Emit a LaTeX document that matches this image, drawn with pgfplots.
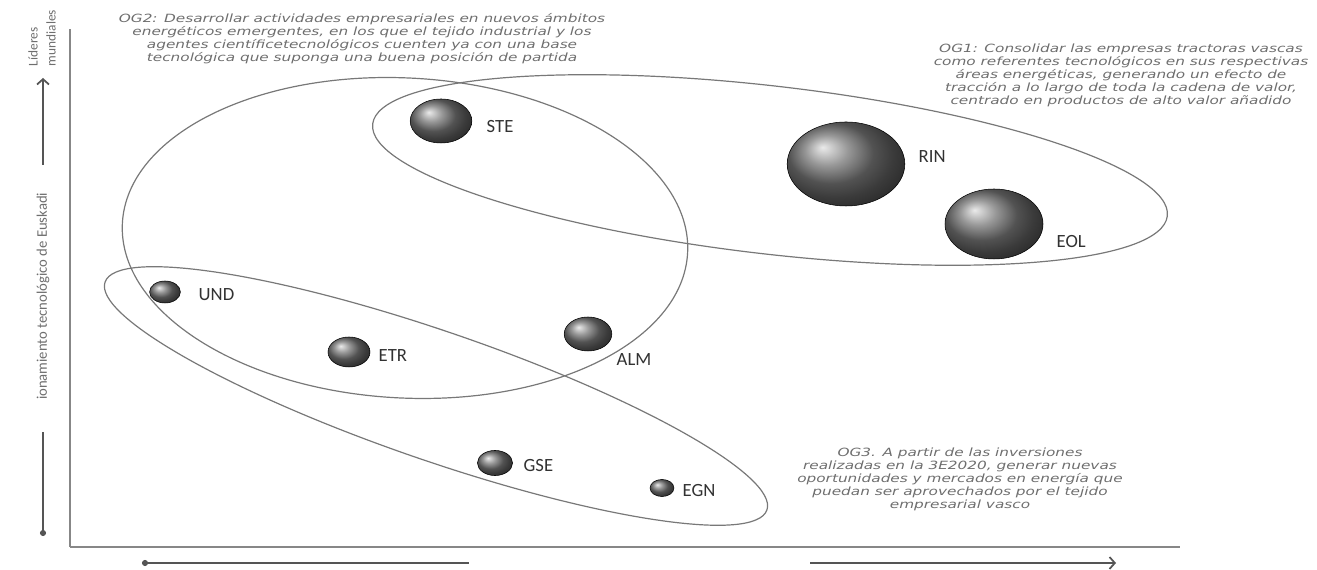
\documentclass[border=0pt]{standalone}
\usepackage{fontspec}
\setmainfont{Carlito}
\newfontfamily\ogfont[FakeStretch=1.35]{DejaVu Sans}
\usepackage{pgfplots}
\pgfplotsset{compat=1.18}
\usetikzlibrary{arrows.meta}

\definecolor{spine}{RGB}{135,135,135}
\definecolor{ring}{RGB}{120,120,120}
\definecolor{ogtext}{RGB}{110,110,110}
\definecolor{lbl}{RGB}{50,50,50}
\definecolor{arr}{RGB}{85,85,85}

% one unit = one pixel of the reference, 0.75pt each way
\tikzset{
  bub/.style={only marks, mark=ball, mark options={xscale=1.4, ball color=gray!80!black!90}},
  ogtxt/.style={text=ogtext, align=center, font=\ogfont\itshape\fontsize{8.5}{9.75}\selectfont},
  name/.style={anchor=west, text=lbl, font=\fontsize{14}{16}\selectfont},
}

\begin{document}
\begin{tikzpicture}
\begin{axis}[
  scale only axis,
  width=832.5pt, height=388.5pt,
  xmin=70, xmax=1180, ymin=21, ymax=539,
  axis x line=bottom, axis y line=left,
  axis line style={-, draw=spine, line width=1.5pt},
  ticks=none,
  clip=false,
]
\path (axis cs:0,0) rectangle (axis cs:1317,568);

% objective groups
\draw[ring, line width=0.9pt, rotate around={-3:(axis cs:405,330)}]
  (axis cs:405,330) ellipse [x radius=212.25pt, y radius=120pt];
\draw[ring, line width=0.9pt, rotate around={-6.6:(axis cs:770,398)}]
  (axis cs:770,398) ellipse [x radius=300pt, y radius=63pt];
\draw[ring, line width=0.9pt, rotate around={-19:(axis cs:436,172)}]
  (axis cs:436,172) ellipse [x radius=262.5pt, y radius=48.4pt];

% bubbles
\addplot[bub, mark size=16.5pt]  coordinates {(441,447)}; % STE
\addplot[bub, mark size=31.5pt]  coordinates {(846,404)}; % RIN
\addplot[bub, mark size=26.25pt] coordinates {(994,344)}; % EOL
\addplot[bub, mark size=8.25pt]  coordinates {(165,276)}; % UND
\addplot[bub, mark size=11.25pt] coordinates {(349,216)}; % ETR
\addplot[bub, mark size=12.75pt] coordinates {(588,234)}; % ALM
\addplot[bub, mark size=9.4pt]   coordinates {(495,105)}; % GSE
\addplot[bub, mark size=6.4pt]   coordinates {(662,80)};  % EGN

\node[name] at (axis cs:482,441) {STE};
\node[name] at (axis cs:914,411) {RIN};
\node[name] at (axis cs:1052,326) {EOL};
\node[name] at (axis cs:194,273) {UND};
\node[name] at (axis cs:374,212) {ETR};
\node[name] at (axis cs:612,208) {ALM};
\node[name] at (axis cs:519,102) {GSE};
\node[name] at (axis cs:678,77) {EGN};

% texts of the objectives
\node[ogtxt] at (axis cs:362,529) {OG2: Desarrollar actividades empresariales en nuevos ámbitos\\
  energéticos emergentes, en los que el tejido industrial y los\\
  agentes científicetecnológicos cuenten ya con una base\\
  tecnológica que suponga una buena posición de partida};
\node[ogtxt] at (axis cs:1121,493) {OG1: Consolidar las empresas tractoras vascas\\
  como referentes tecnológicos en sus respectivas\\
  áreas energéticas, generando un efecto de\\
  tracción a lo largo de toda la cadena de valor,\\
  centrado en productos de alto valor añadido};
\node[ogtxt] at (axis cs:960,89) {OG3. A partir de las inversiones\\
  realizadas en la 3E2020, generar nuevas\\
  oportunidades y mercados en energía que\\
  puedan ser aprovechados por el tejido\\
  empresarial vasco};

% axis titles and arrows
\node[rotate=90, align=left, text=ogtext, font=\fontsize{10}{13.5}\selectfont] at (axis cs:42,530) {Líderes\\mundiales};
\node[rotate=90, anchor=east, text=ogtext, font=\fontsize{11}{12}\selectfont] at (axis cs:43,380) {ionamiento tecnológico de Euskadi};
\draw[arr, line width=1.3pt, -{Straight Barb[length=4pt,width=9pt]}] (axis cs:43,403) -- (axis cs:43,490);
\draw[arr, line width=1.3pt, {Circle[length=4.5pt]}-] (axis cs:43,32) -- (axis cs:43,136);
\draw[arr, line width=1.3pt, {Circle[length=4.5pt]}-] (axis cs:142,5) -- (axis cs:469,5);
\draw[arr, line width=1.3pt, -{Straight Barb[length=4pt,width=9pt]}] (axis cs:810,5) -- (axis cs:1116,5);
\end{axis}
\end{tikzpicture}
\end{document}
